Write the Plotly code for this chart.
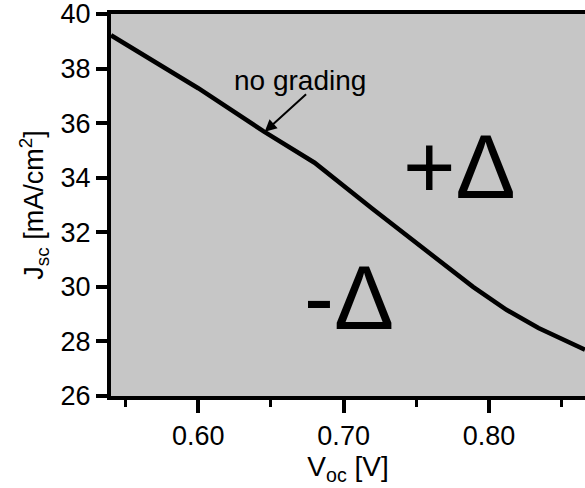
import plotly.graph_objects as go

# Data
voc = [0.54, 0.60, 0.645, 0.68, 0.72, 0.766, 0.789, 0.812, 0.834, 0.866]
jsc = [39.22, 37.28, 35.7, 34.55, 32.85, 30.95, 30.0, 29.16, 28.49, 27.7]

x_range = [0.54, 0.866]
y_range = [26, 40]
x_ticks = [0.60, 0.70, 0.80]
x_minor_ticks = [0.55, 0.65, 0.75, 0.85]
y_ticks = [26, 28, 30, 32, 34, 36, 38, 40]

FONT = "Liberation Sans, Arial, sans-serif"

fig = go.Figure()
fig.add_trace(go.Scatter(x=voc, y=jsc, mode="lines",
                         line=dict(color="black", width=4.5),
                         showlegend=False, hoverinfo="skip"))

fig.update_layout(
    width=585, height=488,
    margin=dict(l=111, r=0, t=14, b=92),
    paper_bgcolor="white",
    plot_bgcolor="#c6c6c6",
    font=dict(family=FONT, color="black", size=25),
    xaxis=dict(
        range=x_range, tickmode="array", tickvals=x_ticks, tickformat=".2f",
        ticks="outside", ticklen=13, tickwidth=3.5, tickcolor="black",
        showline=True, linewidth=4, linecolor="black", mirror=True,
        showgrid=False, zeroline=False,
        tickfont=dict(size=27),
        minor=dict(tickmode="array", tickvals=x_minor_ticks,
                   ticks="outside", ticklen=7,
                   tickwidth=3, tickcolor="black", showgrid=False),
        title=dict(text="V<sub>oc</sub> [V]", font=dict(size=28), standoff=2),
    ),
    yaxis=dict(
        range=y_range, tickmode="array", tickvals=y_ticks,
        ticks="outside", ticklen=11, tickwidth=3.5, tickcolor="black",
        showline=True, linewidth=4, linecolor="black",
        showgrid=False, zeroline=False,
        tickfont=dict(size=27), ticklabeloverflow="allow",
        title=dict(text="J<sub>sc</sub> [mA/cm<sup>2</sup>]", font=dict(size=27), standoff=10),
    ),
)

fig.add_annotation(x=0.6697, y=37.58, text="no grading", showarrow=False,
                   font=dict(size=28))
fig.add_annotation(x=0.6457, y=35.68, ax=0.6752, ay=37.11, axref="x", ayref="y",
                   text="", showarrow=True, arrowhead=2, arrowsize=1.2,
                   arrowwidth=2, arrowcolor="black")
fig.add_annotation(x=0.7796, y=34.4, text="+Δ", showarrow=False,
                   font=dict(size=90))
fig.add_annotation(x=0.704, y=29.6, text="-Δ", showarrow=False,
                   font=dict(size=90))

fig.write_html("out.html", config={"displayModeBar": False},
               post_script="document.body.style.margin='0';")
